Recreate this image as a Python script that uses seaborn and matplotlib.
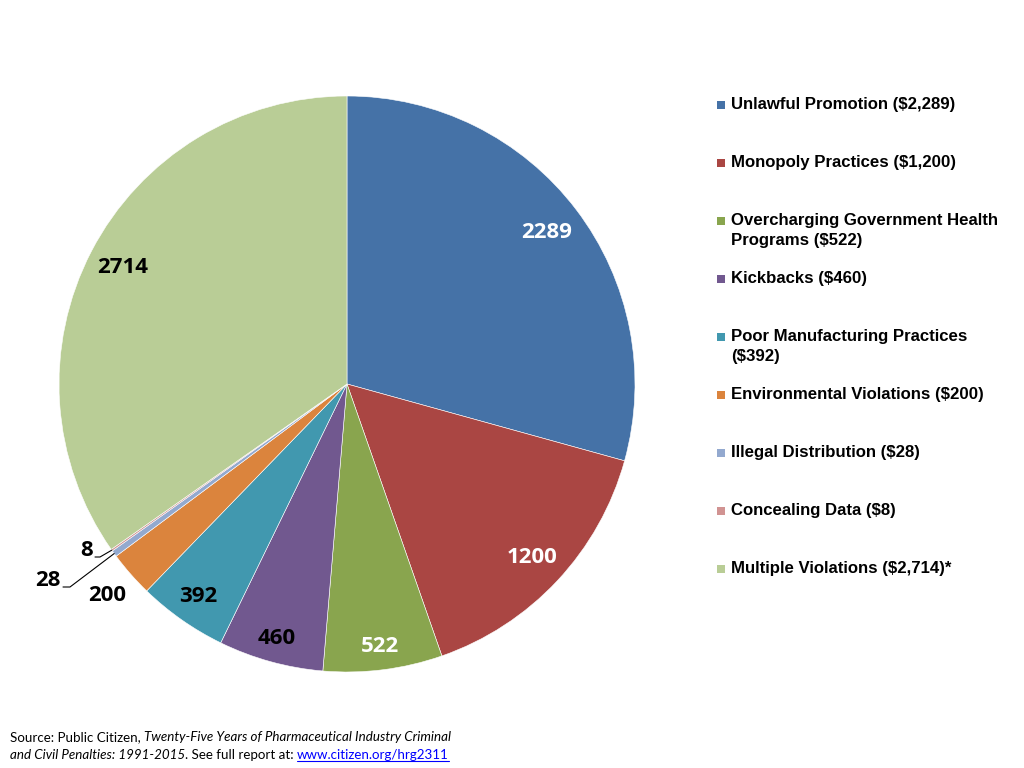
import matplotlib
matplotlib.use("Agg")
import matplotlib.pyplot as plt
import seaborn as sns
import numpy as np
from matplotlib.patches import Rectangle
from matplotlib.lines import Line2D

# ---------------- data ----------------
categories = ["Unlawful Promotion", "Monopoly Practices",
              "Overcharging Government Health Programs", "Kickbacks",
              "Poor Manufacturing Practices", "Environmental Violations",
              "Illegal Distribution", "Concealing Data", "Multiple Violations"]
values = [2289, 1200, 522, 460, 392, 200, 28, 8, 2714]
legend_labels = ["Unlawful Promotion ($2,289)",
                 "Monopoly Practices ($1,200)",
                 "Overcharging Government Health\nPrograms ($522)",
                 "Kickbacks ($460)",
                 "Poor Manufacturing Practices\n($392)",
                 "Environmental Violations ($200)",
                 "Illegal Distribution ($28)",
                 "Concealing Data ($8)",
                 "Multiple Violations ($2,714)*"]
colors = ["#4572A7", "#AA4643", "#89A54E", "#71588F", "#4198AF",
          "#DB843D", "#93A9CF", "#D19392", "#B9CD96"]
label_colors = ["white", "white", "white", "black", "black",
                "black", "black", "black", "black"]

# ---------------- style ----------------
sns.set_theme(style="white")
plt.rcParams['font.family'] = ['Liberation Sans', 'DejaVu Sans']

W, H = 1024, 768
fig = plt.figure(figsize=(W / 100, H / 100), dpi=100)
fig.patch.set_facecolor("white")

# pie axes: centre (347,384), radius 288 px
cx, cy, R = 347, 384, 288
ax = fig.add_axes([(cx - R) / W, 1 - (cy + R) / H, 2 * R / W, 2 * R / H])
wedges, _ = ax.pie(values, colors=colors, startangle=90, counterclock=False,
                   radius=1, wedgeprops=dict(edgecolor="white", linewidth=0.4))
ax.set_xlim(-1, 1)
ax.set_ylim(-1, 1)
ax.set_aspect("equal")
ax.axis("off")

# data labels
label_r = [0.87, 0.88, 0.92, 0.915, 0.90, 1.11, None, None, 0.876]
lab_font = dict(family=["Open Sans", "DejaVu Sans"], fontweight="bold", fontsize=16)
for w, v, r, c in zip(wedges, values, label_r, label_colors):
    if r is None:
        continue
    mid = np.deg2rad((w.theta1 + w.theta2) / 2)
    ax.text(r * np.cos(mid), r * np.sin(mid), str(v), ha="center", va="center",
            color=c, **lab_font)


def px(x, y):
    return (x - cx) / R, (cy - y) / R


# small slices with leader lines: (wedge index, elbow px, end px, text px)
small = [(6, (70, 587), (63, 587), (61, 581)),
         (7, (100, 557), (95, 557), (93, 550))]
for idx, elbow, end, tpos in small:
    w = wedges[idx]
    mid = np.deg2rad((w.theta1 + w.theta2) / 2)
    tip = (np.cos(mid), np.sin(mid))
    e = px(*elbow)
    n = px(*end)
    ax.add_line(Line2D([tip[0], e[0], n[0]], [tip[1], e[1], n[1]],
                       color="black", lw=0.8, clip_on=False))
    t = px(*tpos)
    ax.text(t[0], t[1], str(values[idx]), ha="right", va="center",
            color=label_colors[idx], **lab_font)

# legend (manual, to match row spacing)
for i, (lab, col) in enumerate(zip(legend_labels, colors)):
    yc = 105 + 58 * i
    fig.patches.append(Rectangle((717 / W, 1 - (yc + 4) / H), 8 / W, 8 / H,
                                 transform=fig.transFigure, facecolor=col,
                                 edgecolor="none"))
    for j, line in enumerate(lab.split("\n")):
        fig.text(731 / W, 1 - (yc + 20 * j) / H, line, ha="left", va="center",
                 fontsize=12.1, fontweight="bold", color="black",
                 family=["Liberation Sans", "DejaVu Sans"])

# source note with mixed styles
src_font = ["Lato", "DejaVu Sans"]
fs = 9.6
line1 = [("Source: Public Citizen, ", "normal", "black"),
         ("Twenty-Five Years of Pharmaceutical Industry Criminal", "italic", "black")]
line2 = [("and Civil Penalties: 1991-2015", "italic", "black"),
         (". See full report at: ", "normal", "black"),
         ("www.citizen.org/hrg2311", "normal", "#0000FF")]
fig.canvas.draw()
renderer = fig.canvas.get_renderer()
for y0, parts in [(741, line1), (759, line2)]:
    x = 10
    for txt, style, col in parts:
        t = fig.text(x / W, 1 - y0 / H, txt, ha="left", va="baseline",
                     fontsize=fs, style=style, color=col, family=src_font)
        bb = t.get_window_extent(renderer)
        if col != "black":
            fig.add_artist(Line2D([bb.x0 / W, bb.x1 / W],
                                  [(H - y0 - 2) / H, (H - y0 - 2) / H],
                                  transform=fig.transFigure, color=col, lw=0.8))
        x = bb.x1

fig.savefig("out.png", dpi=100, facecolor="white")
